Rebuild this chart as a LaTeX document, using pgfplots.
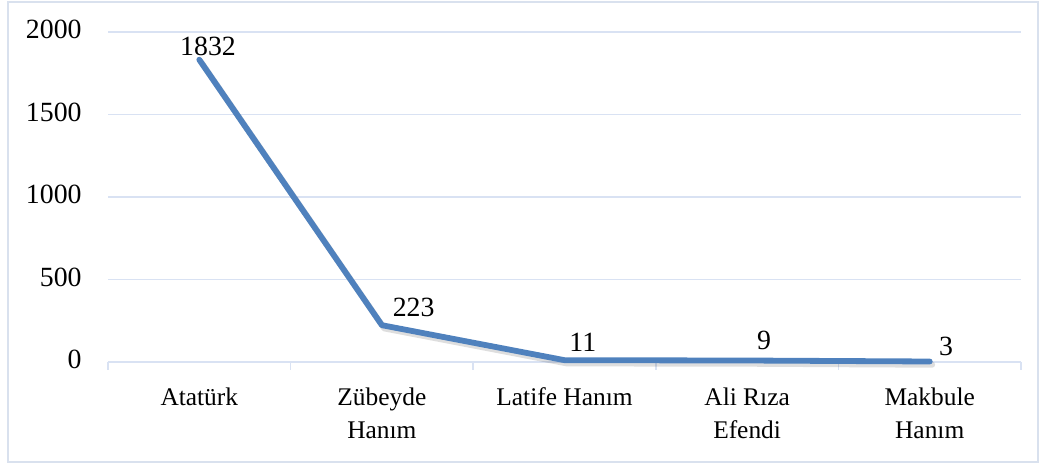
\documentclass[border=0pt]{standalone}
\usepackage{fontspec}
\setmainfont{Liberation Serif}
\usepackage{pgfplots}
\usepackage{pgfplotstable}
\pgfplotsset{compat=1.18}
\definecolor{linecol}{HTML}{4F81BD}
\definecolor{gridcol}{HTML}{D9E2F3}
\definecolor{framecol}{HTML}{D9E1EE}
\pgfplotstableread{
x y dx dy
0 1832 -11 2.3
1 223 4 4.2
2 11 1 4.2
3 9 3.5 5.5
4 3 3.3 3.2
}\datatable
\begin{document}
\fontsize{13.9}{16.5}\selectfont
\begin{tikzpicture}
\begin{axis}[name=ax, at={(0,0)}, anchor=south west,
  width=456.5pt, height=165pt, scale only axis,
  clip=false,
  xmin=-0.5, xmax=4.5, ymin=0, ymax=2000,
  axis line style={draw=none},
  ytick={0,500,...,2000},
  ymajorgrids, grid style={gridcol, line width=0.75pt},
  xtick={0,1,2,3,4},
  xticklabels={Atatürk, Zübeyde\\Hanım, Latife Hanım, Ali Rıza\\Efendi, Makbule\\Hanım},
  major x tick style={draw=none},
  minor xtick={-0.5,0.5,1.5,2.5,3.5,4.5},
  minor tick length=4pt,
  minor x tick style={gridcol, line width=0.75pt},
  ytick style={draw=none},
  tick align=outside, xtick pos=left, ytick pos=left,
  major tick length=0pt,
  xticklabel style={align=center, anchor=north, inner sep=0pt, yshift=-9.9pt,
    font=\fontsize{12.7}{16.5}\selectfont},
  typeset ticklabels with strut,
  yticklabel style={anchor=east, inner sep=0pt, xshift=-13pt,
    font=\fontsize{13.9}{16.5}\selectfont},
  /pgf/number format/assume math mode=true,
  /pgf/number format/1000 sep={},
]
\addplot[black, opacity=0.13, line width=3pt, line cap=round, line join=round,
  xshift=1.2pt, yshift=-1.6pt, forget plot] table[x=x,y=y] {\datatable};
\addplot[linecol, line width=2.9pt, line cap=round, line join=round,
  nodes near coords, point meta=explicit symbolic,
  visualization depends on={\thisrow{dx}\as\dx},
  visualization depends on={\thisrow{dy}\as\dy},
  nodes near coords style={anchor=base west, inner sep=0pt, xshift=\dx pt, yshift=\dy pt,
    text=black, font=\fontsize{13.9}{16.5}\selectfont}]
  table[x=x,y=y,meta=y] {\datatable};
\end{axis}
\path ([shift={(-54pt,-50.5pt)}]ax.south west) rectangle ([shift={(9.5pt,16pt)}]ax.north east);
\draw[framecol, line width=0.75pt] ([shift={(-50pt,-50pt)}]ax.south west) rectangle ([shift={(8.5pt,15pt)}]ax.north east);
\end{tikzpicture}
\end{document}
